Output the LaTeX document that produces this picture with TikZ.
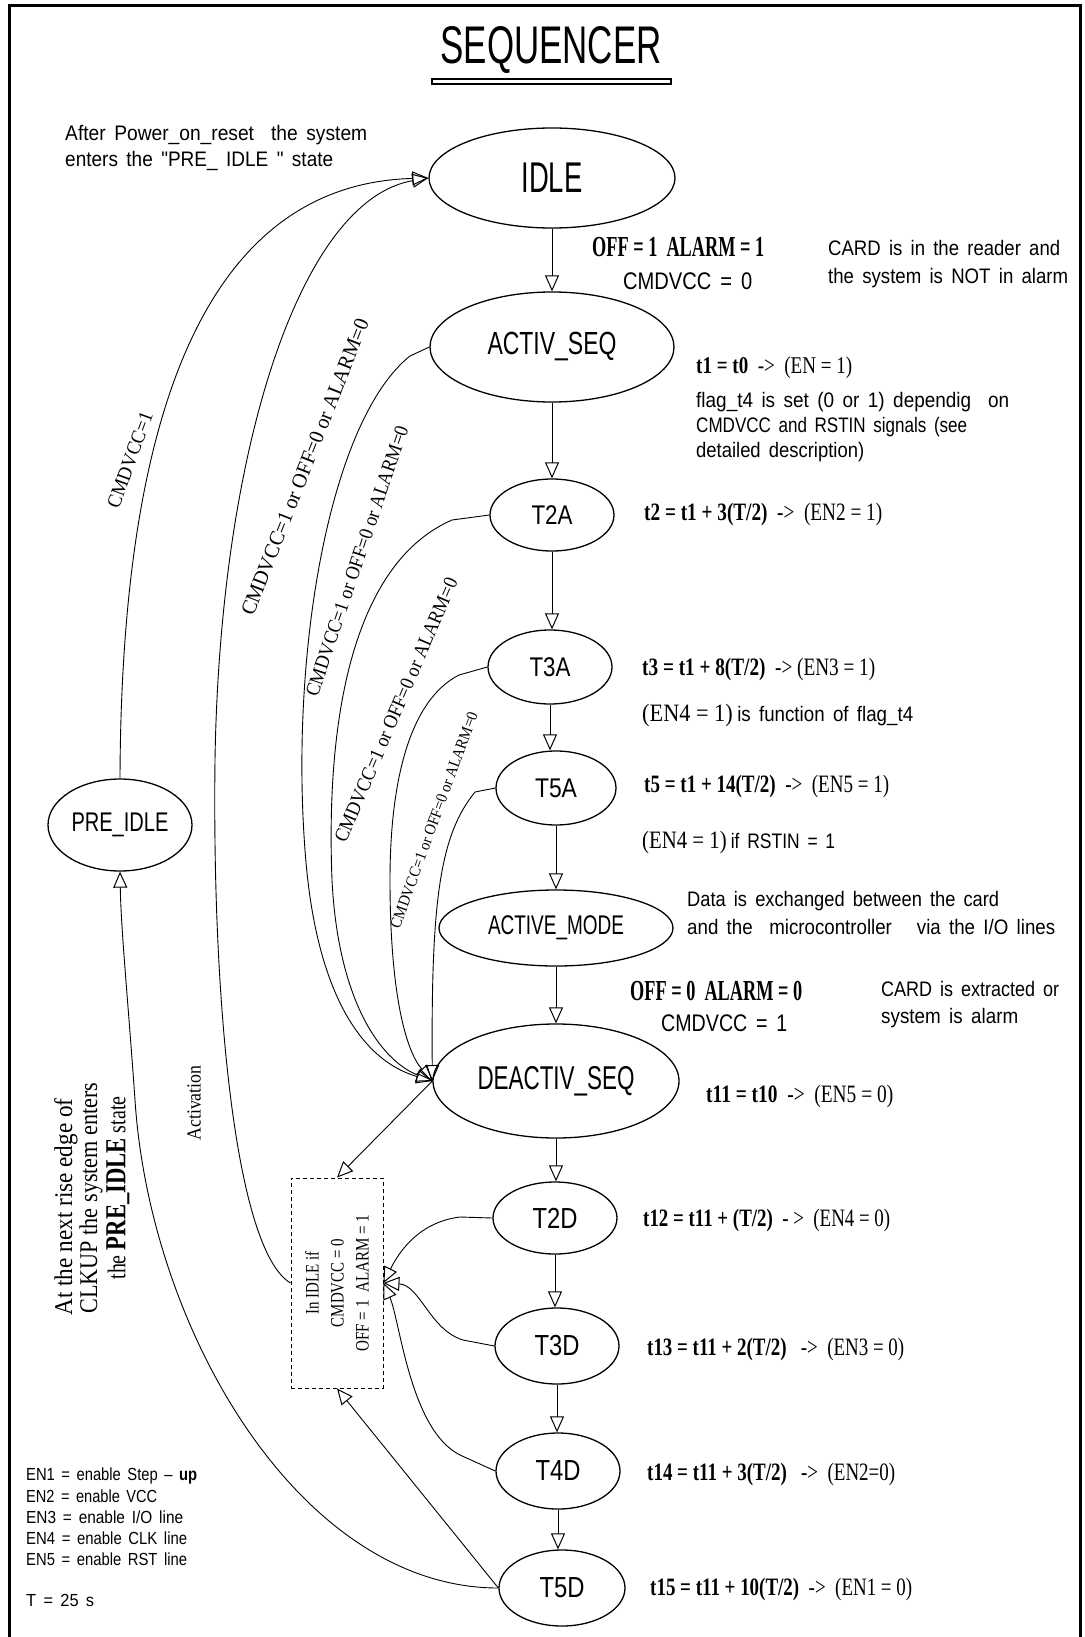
\documentclass[tikz,border=0pt]{standalone}
\usepackage{fontspec}
\setmainfont{Liberation Serif}
\newfontfamily\cad[WordSpace=1.6]{Liberation Sans}
\newfontfamily\tms{Liberation Serif}
\usetikzlibrary{shapes.geometric,arrows.meta}
\newsavebox\fitbox
\newcommand\fitw[2]{\sbox\fitbox{#2}\pgfmathsetmacro\fitsx{#1/\the\wd\fitbox}\scalebox{\fitsx}[1]{\usebox\fitbox}}
\newcommand\fs[1]{\fontsize{#1}{#1}\selectfont}
\begin{document}
\begin{tikzpicture}[x=1pt,y=-1pt,
  st/.style={draw,ellipse,line width=1.3pt,inner sep=0pt},
  arr/.style={line width=0.9pt,-{Triangle[open,length=16pt,width=14pt,line width=1pt]}},
  txt/.style={inner sep=0pt,anchor=mid west},
  lbl/.style={inner sep=0pt}]
\useasboundingbox (0,0) rectangle (1084,1637);
\draw[line width=3pt] (9,6) rectangle (1080,1700);

% title
\node[lbl] (title) at (551,50) {\fitw{221}{\fs{53}\cad SEQUENCER}};
\draw[line width=1.1pt] (432,79) rectangle (671,84);

% states
\node[st,minimum width=246,minimum height=100] (IDLE) at (552,178) {\fitw{61}{\fs{43}\cad IDLE}};
\node[st,minimum width=244,minimum height=110] (ACT) at (552,347) {\fitw{129}{\fs{32}\cad ACTIV\_SEQ}};
\node[st,minimum width=124,minimum height=72] (T2A) at (552,515) {\fitw{41}{\fs{27}\cad T2A}};
\node[st,minimum width=124,minimum height=74] (T3A) at (550,667) {\fitw{41}{\fs{27}\cad T3A}};
\node[st,minimum width=120,minimum height=74] (T5A) at (556,788) {\fitw{42}{\fs{27}\cad T5A}};
\node[st,minimum width=234,minimum height=76] (AM) at (556,928) {\fitw{136}{\fs{27}\cad ACTIVE\_MODE}};
\node[st,minimum width=246,minimum height=114] (DE) at (556,1081) {\fitw{157}{\fs{33}\cad DEACTIV\_SEQ}};
\node[st,minimum width=124,minimum height=72] (T2D) at (555,1218) {\fitw{45}{\fs{29}\cad T2D}};
\node[st,minimum width=124,minimum height=76] (T3D) at (557,1346) {\fitw{45}{\fs{29}\cad T3D}};
\node[st,minimum width=124,minimum height=76] (T4D) at (558,1471) {\fitw{45}{\fs{29}\cad T4D}};
\node[st,minimum width=126,minimum height=76] (T5D) at (562,1588) {\fitw{45}{\fs{29}\cad T5D}};
\node[st,minimum width=144,minimum height=92] (PRE) at (120,825) {\fitw{97}{\fs{27}\cad PRE\_IDLE}};

% dashed box
\node[draw,dash pattern=on 4pt off 3pt,line width=0.9pt,minimum width=92,minimum height=210,inner sep=0pt] (BOX) at (337,1283) {};
\node[lbl,rotate=90,align=center,font=\tms\fontsize{19}{25}\selectfont] (boxtxt) at (BOX.center)
  {\fitw{63}{In IDLE if}\\\fitw{88}{CMDVCC = 0}\\\fitw{137}{OFF = 1~~ALARM = 1}};

% spine arrows
\draw[arr] (IDLE.south) -- (IDLE.south |- ACT.north);
\draw[arr] (ACT.south) -- (ACT.south |- T2A.north);
\draw[arr] (T2A.south) -- (T2A.south |- T3A.north);
\draw[arr] (T3A.south) -- (T3A.south |- T5A.north);
\draw[arr] (T5A.south) -- (T5A.south |- AM.north);
\draw[arr] (AM.south) -- (AM.south |- DE.north);
\draw[arr] (DE.south) -- (DE.south |- T2D.north);
\draw[arr] (T2D.south) -- (T2D.south |- T3D.north);
\draw[arr] (T3D.south) -- (T3D.south |- T4D.north);
\draw[arr] (T4D.south) -- (T4D.south |- T5D.north);

% left loops
\draw[arr] (PRE.north) .. controls (121,500) and (170,185) .. (IDLE.west);
\draw[arr] (BOX.west) .. controls (235,1250) and (212,1000) .. (215,760) .. controls (220,450) and (300,200) .. (IDLE.west);
\draw[arr] (T5D.west) .. controls (300,1588) and (150,1330) .. (135,1100) .. controls (128,1000) and (121,930) .. (PRE.south);

% abort curves to DEACTIV_SEQ
\draw[arr] (ACT.west) -- (410,356) .. controls (330,420) and (290,650) .. (305,850) .. controls (315,990) and (360,1060) .. (DE.west);
\draw[arr] (T2A.west) -- (452,520) .. controls (360,560) and (325,700) .. (332,880) .. controls (338,1000) and (380,1060) .. (DE.west);
\draw[arr] (T3A.west) -- (459,675) .. controls (410,700) and (390,780) .. (390,880) .. controls (390,990) and (405,1050) .. (DE.west);
\draw[arr] (T5A.west) -- (475,792) .. controls (440,835) and (431,900) .. (DE.west);

% deactivation to box
\draw[arr] (DE.west) -- (BOX.north);
\draw[arr] (T5D.west) -- (BOX.south);
\draw[arr] (T2D.west) -- (460,1217) .. controls (420,1222) and (400,1250) .. (BOX.east);
\draw[arr] (T3D.west) -- (463,1340) .. controls (430,1330) and (420,1285) .. (BOX.east);
\draw[arr] (T4D.west) -- (460,1455) .. controls (410,1430) and (400,1320) .. (BOX.east);

% rotated labels
\node[lbl,rotate=70] (r0) at (130,460) {\fitw{100}{\fs{20}\tms CMDVCC=1}};
\node[lbl,rotate=68.5] (r1) at (305,467) {\fitw{317}{\fs{21}\tms CMDVCC=1 or OFF=0 or ALARM=0}};
\node[lbl,rotate=71.3] (r2) at (357,561) {\fitw{284}{\fs{20}\tms CMDVCC=1 or OFF=0 or ALARM=0}};
\node[lbl,rotate=66.8] (r3) at (396,710) {\fitw{285}{\fs{20}\tms CMDVCC=1 or OFF=0 or ALARM=0}};
\node[lbl,rotate=70] (r4) at (434,820) {\fitw{229}{\fs{16}\tms CMDVCC=1 or OFF=0 or ALARM=0}};
\node[lbl,rotate=90] (ract) at (194,1103) {\fitw{75}{\fs{20}\tms Activation}};
\node[lbl,rotate=90] (big1) at (66,1207) {\fitw{217}{\fs{25.5}\tms At the next rise edge of}};
\node[lbl,rotate=90] (big2) at (91,1198) {\fitw{231}{\fs{25.5}\tms CLKUP the system enters}};
\node[lbl,rotate=90] (big3) at (118,1188) {\fitw{183}{\fs{25.5}\tms the {\fs{29}\bfseries PRE\_IDLE} state}};

% texts
\node[txt] (n1) at (65,138) {\fitw{302}{\fs{21}\cad After Power\_on\_reset~ the system}};
\node[txt] (n2) at (65,164) {\fitw{268}{\fs{21}\cad enters the "PRE\_ IDLE~" state}};
\node[txt] (c1) at (592,254) {\fitw{172}{\fs{29}\tms\bfseries OFF = 1~~ALARM = 1}};
\node[txt] (c2) at (623,287) {\fitw{129}{\fs{24}\cad CMDVCC = 0}};
\node[txt] (d1) at (828,253) {\fitw{232}{\fs{21}\cad CARD is in the reader and}};
\node[txt] (d2) at (828,281) {\fitw{240}{\fs{21}\cad the system is NOT in alarm}};
\node[txt] (e1) at (696,371) {\fitw{156}{\fs{24}\tms\textbf{t1 = t0}~~->~~(EN = 1)}};
\node[txt] (e2) at (696,405) {\fitw{313}{\fs{21}\cad flag\_t4 is set (0 or 1) dependig~ on}};
\node[txt] (e3) at (696,430) {\fitw{271}{\fs{21}\cad CMDVCC and RSTIN signals (see}};
\node[txt] (e4) at (696,455) {\fitw{168}{\fs{21}\cad detailed description)}};
\node[txt] (f1) at (644,518) {\fitw{238}{\fs{25}\tms\textbf{t2 = t1 + 3(T/2)}~~->~~(EN2 = 1)}};
\node[txt] (g1) at (642,673) {\fitw{233}{\fs{25}\tms\textbf{t3 = t1 + 8(T/2)}~~->~(EN3 = 1)}};
\node[txt] (g2) at (642,719) {\fitw{271}{{\fs{25}\tms(EN4 = 1)}~~{\fs{21}\cad is function of flag\_t4}}};
\node[txt] (h1) at (644,790) {\fitw{245}{\fs{25}\tms\textbf{t5 = t1 + 14(T/2)}~~->~~(EN5 = 1)}};
\node[txt] (h2) at (642,846) {\fitw{193}{{\fs{25}\tms(EN4 = 1)}~~{\fs{21}\cad if RSTIN = 1}}};
\node[txt] (i1) at (687,904) {\fitw{312}{\fs{21}\cad Data is exchanged between the card}};
\node[txt] (i2) at (687,932) {\fitw{368}{\fs{21}\cad and the~ microcontroller~~ via the I/O lines}};
\node[txt] (j1) at (630,998) {\fitw{172}{\fs{29}\tms\bfseries OFF = 0~~ALARM = 0}};
\node[txt] (j2) at (661,1029) {\fitw{126}{\fs{24}\cad CMDVCC = 1}};
\node[txt] (j3) at (881,994) {\fitw{178}{\fs{21}\cad CARD is extracted or}};
\node[txt] (j4) at (881,1021) {\fitw{137}{\fs{21}\cad system is alarm}};
\node[txt] (k1) at (706,1100) {\fitw{187}{\fs{25}\tms\textbf{t11 = t10}~~->~~(EN5 = 0)}};
\node[txt] (k2) at (643,1224) {\fitw{247}{\fs{25}\tms\textbf{t12 = t11 + (T/2)}~~- >~~(EN4 = 0)}};
\node[txt] (k3) at (647,1353) {\fitw{257}{\fs{25}\tms\textbf{t13 = t11 + 2(T/2)}~~~->~~(EN3 = 0)}};
\node[txt] (k4) at (647,1478) {\fitw{248}{\fs{25}\tms\textbf{t14 = t11 + 3(T/2)}~~~->~~(EN2=0)}};
\node[txt] (k5) at (650,1593) {\fitw{262}{\fs{25}\tms\textbf{t15 = t11 + 10(T/2)}~~->~~(EN1 = 0)}};

% legend
\node[txt] (l1) at (26,1478) {\fitw{171}{\fs{17.5}\cad EN1 = enable Step – \textbf{up}}};
\node[txt] (l2) at (26,1500) {\fitw{131}{\fs{17.5}\cad EN2 = enable VCC}};
\node[txt] (l3) at (26,1521) {\fitw{157}{\fs{17.5}\cad EN3 = enable I/O line}};
\node[txt] (l4) at (26,1542) {\fitw{161}{\fs{17.5}\cad EN4 = enable CLK line}};
\node[txt] (l5) at (26,1563) {\fitw{161}{\fs{17.5}\cad EN5 = enable RST line}};
\node[txt] (l6) at (26,1604) {\fitw{68}{\fs{17.5}\cad T = 25 s}};
\end{tikzpicture}
\end{document}
